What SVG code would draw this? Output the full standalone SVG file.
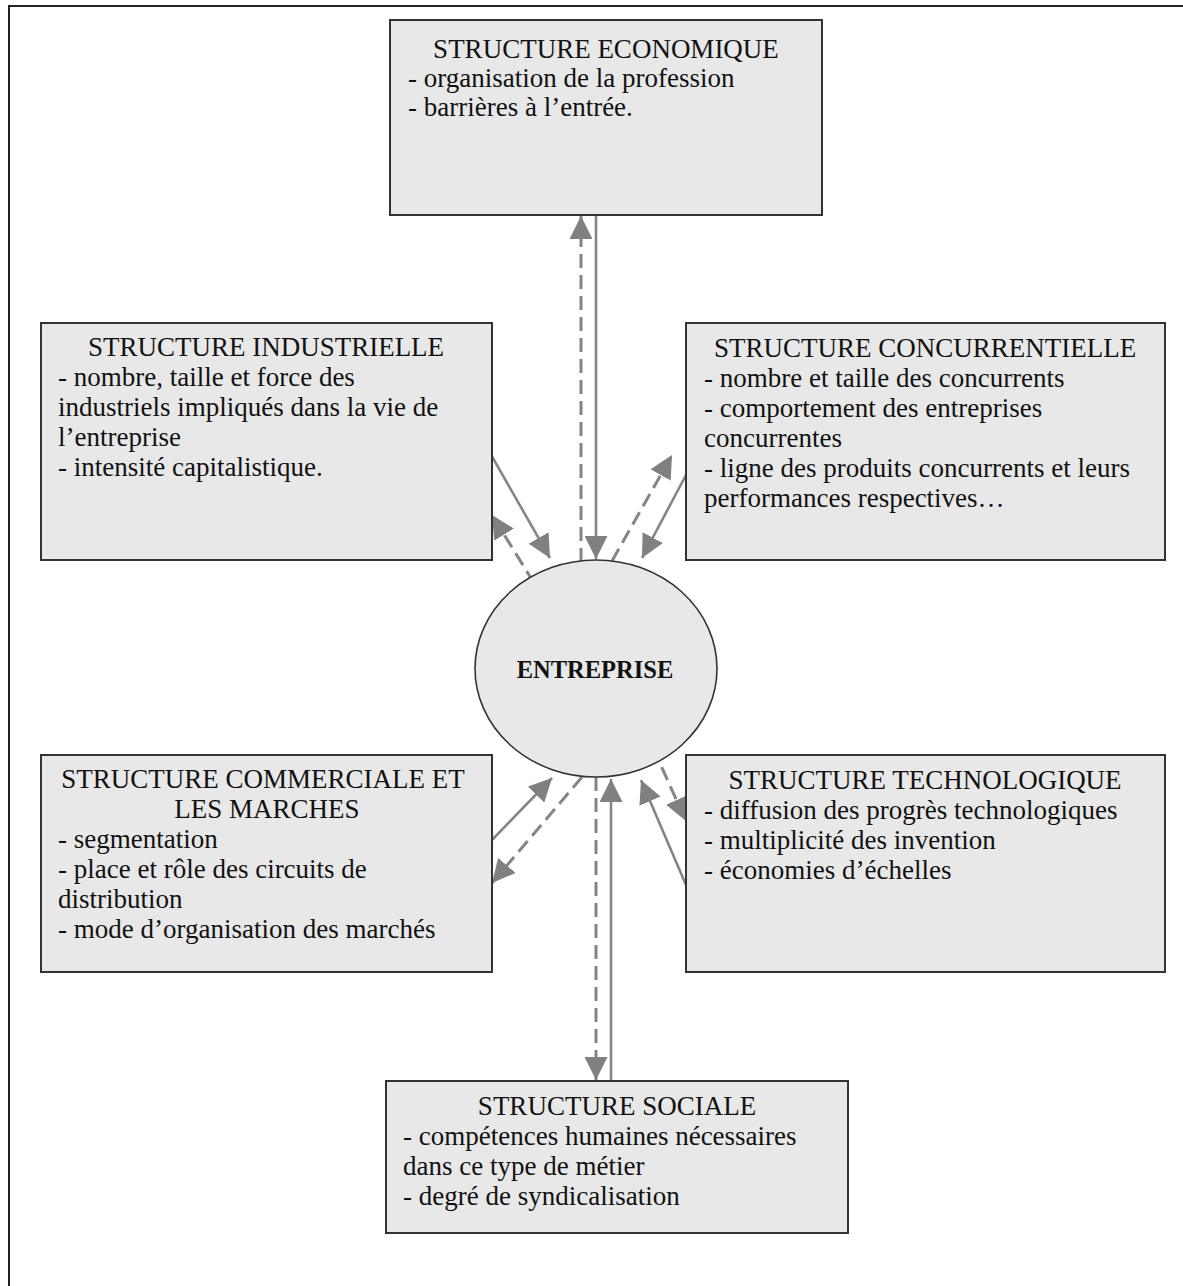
<svg xmlns="http://www.w3.org/2000/svg" width="1183" height="1286" viewBox="0 0 1183 1286">
  <style>
    .box { fill: #e8e8e8; stroke: #333; stroke-width: 2; }
    .hub { fill: #e8e8e8; stroke: #333; stroke-width: 1.6; }
    .t { font-family: "Liberation Serif", "Times New Roman", serif; font-size: 27px; fill: #111; }
    .c { text-anchor: middle; }
    .hubtxt { font-family: "Liberation Serif", "Times New Roman", serif; font-size: 24.5px; font-weight: bold; fill: #111; text-anchor: middle; }
    .solid { stroke: #858585; stroke-width: 2.6; fill: none; marker-end: url(#head); }
    .dash { stroke: #858585; stroke-width: 3; fill: none; stroke-dasharray: 14 7; marker-end: url(#head); }
  </style>
  <defs>
    <marker id="head" markerUnits="userSpaceOnUse" markerWidth="23" markerHeight="23" refX="23" refY="11.5" orient="auto">
      <path d="M0,0 L23,11.5 L0,23 z" fill="#808080"/>
    </marker>
  </defs>

  <rect width="1183" height="1286" fill="#fff"/>
  <!-- page frame -->
  <rect x="9" y="6" width="1200" height="1300" fill="none" stroke="#222" stroke-width="2"/>

  <!-- connectors between the hub and the surrounding structures -->
  <g id="connectors">
    <line class="dash" x1="581" y1="562" x2="581" y2="216"/>
    <line class="solid" x1="596" y1="215" x2="596" y2="559"/>

    <line class="solid" x1="490" y1="453" x2="550" y2="558"/>
    <line class="dash" x1="534" y1="583" x2="492" y2="515"/>

    <line class="dash" x1="612" y1="561" x2="672" y2="455"/>
    <line class="solid" x1="686" y1="475" x2="642" y2="558"/>

    <line class="solid" x1="490" y1="842" x2="552" y2="778"/>
    <line class="dash" x1="582" y1="777" x2="492" y2="883"/>

    <line class="dash" x1="596" y1="777" x2="596" y2="1080"/>
    <line class="solid" x1="611" y1="1081" x2="611" y2="779"/>

    <line class="dash" x1="653" y1="748" x2="686" y2="821"/>
    <line class="solid" x1="686" y1="885" x2="641" y2="780"/>
  </g>

  <g id="economique">
    <rect class="box" x="390" y="20" width="432" height="195"/>
    <text class="t c" x="606" y="58">STRUCTURE ECONOMIQUE</text>
    <text class="t" x="408" y="87">- organisation de la profession</text>
    <text class="t" x="408" y="116">- barrières à l’entrée.</text>
  </g>

  <g id="industrielle">
    <rect class="box" x="41" y="323" width="451" height="237"/>
    <text class="t c" x="266" y="356">STRUCTURE INDUSTRIELLE</text>
    <text class="t" x="58" y="386">- nombre, taille et force des</text>
    <text class="t" x="58" y="416">industriels impliqués dans la vie de</text>
    <text class="t" x="58" y="446">l’entreprise</text>
    <text class="t" x="58" y="476">- intensité capitalistique.</text>
  </g>

  <g id="concurrentielle">
    <rect class="box" x="686" y="323" width="479" height="237"/>
    <text class="t c" x="925" y="357">STRUCTURE CONCURRENTIELLE</text>
    <text class="t" x="704" y="387">- nombre et taille des concurrents</text>
    <text class="t" x="704" y="417">- comportement des entreprises</text>
    <text class="t" x="704" y="447">concurrentes</text>
    <text class="t" x="704" y="477">- ligne des produits concurrents et leurs</text>
    <text class="t" x="704" y="507">performances respectives…</text>
  </g>

  <g id="entreprise">
    <ellipse class="hub" cx="596" cy="668.5" rx="121" ry="108.5"/>
    <text class="hubtxt" x="595" y="678">ENTREPRISE</text>
  </g>

  <g id="commerciale">
    <rect class="box" x="41" y="755" width="451" height="217"/>
    <text class="t c" x="263" y="788">STRUCTURE COMMERCIALE ET</text>
    <text class="t c" x="267" y="818">LES MARCHES</text>
    <text class="t" x="58" y="848">- segmentation</text>
    <text class="t" x="58" y="878">- place et rôle des circuits de</text>
    <text class="t" x="58" y="908">distribution</text>
    <text class="t" x="58" y="938">- mode d’organisation des marchés</text>
  </g>

  <g id="technologique">
    <rect class="box" x="686" y="755" width="479" height="217"/>
    <text class="t c" x="925" y="789">STRUCTURE TECHNOLOGIQUE</text>
    <text class="t" x="704" y="819">- diffusion des progrès technologiques</text>
    <text class="t" x="704" y="849">- multiplicité des invention</text>
    <text class="t" x="704" y="879">- économies d’échelles</text>
  </g>

  <g id="sociale">
    <rect class="box" x="386" y="1081" width="462" height="152"/>
    <text class="t c" x="617" y="1115">STRUCTURE SOCIALE</text>
    <text class="t" x="403" y="1145">- compétences humaines nécessaires</text>
    <text class="t" x="403" y="1175">dans ce type de métier</text>
    <text class="t" x="403" y="1205">- degré de syndicalisation</text>
  </g>
</svg>
